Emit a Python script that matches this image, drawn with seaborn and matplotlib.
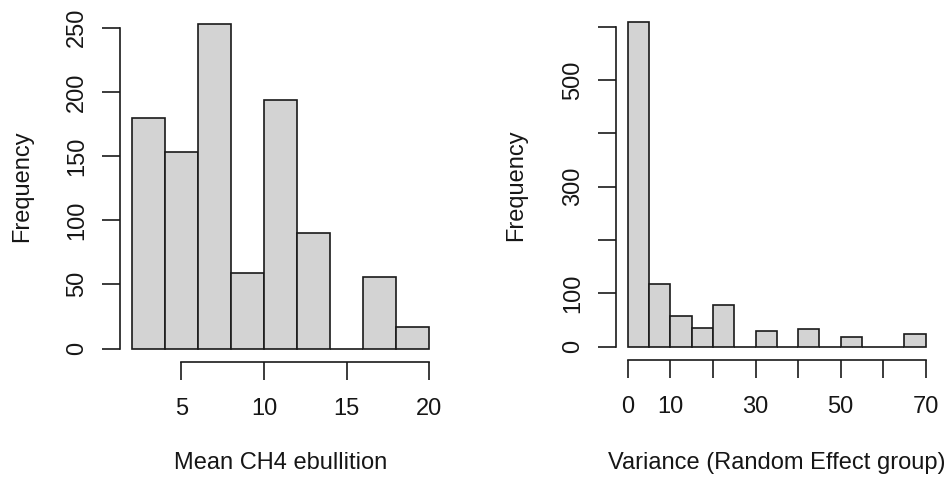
import numpy as np
import pandas as pd
import matplotlib
matplotlib.use("Agg")
import matplotlib.pyplot as plt
import seaborn as sns

# ---- data ----
left_edges = [2, 4, 6, 8, 10, 12, 14, 16, 18, 20]
left_counts = [180, 153, 253, 59, 194, 90, 0, 56, 17]
left_xticks = [5, 10, 15, 20]
left_yticks = [0, 50, 100, 150, 200, 250]
left_yticklabels = ["0", "50", "100", "150", "200", "250"]

right_edges = [0, 5, 10, 15, 20, 25, 30, 35, 40, 45, 50, 55, 60, 65, 70]
right_counts = [608, 117, 57, 34, 78, 0, 29, 0, 32, 0, 17, 0, 0, 24]
right_xticks = [0, 10, 20, 30, 40, 50, 60, 70]
right_xticklabels = ["0", "10", "", "30", "", "50", "", "70"]
right_yticks = [0, 100, 200, 300, 400, 500, 600]
right_yticklabels = ["0", "100", "", "300", "", "500", ""]

left_xlabel = "Mean CH4 ebullition"
right_xlabel = "Variance (Random Effect group)"
ylabel = "Frequency"

sns.set_style("white")
plt.rcParams["font.family"] = ["Liberation Sans", "DejaVu Sans"]

W, H = 952, 482
fig = plt.figure(figsize=(W / 100, H / 100), dpi=100)

def px_axes(l, r, t, b):
    return fig.add_axes([l / W, (H - b) / H, (r - l) / W, (b - t) / H])

ax1 = px_axes(120, 441, 11, 362)
ax2 = px_axes(616, 937.6, 9.7, 360)

edge_col = "#1a1a1a"
txt_col = "#161616"
fs = 17

def draw(ax, edges, counts, xticks, xticklabels, yticks, yticklabels, xlabel, xlim, ylim, ylab_x, xlab_y):
    centers = [(a + b) / 2 for a, b in zip(edges[:-1], edges[1:])]
    df = pd.DataFrame({"x": centers, "w": counts})
    sns.histplot(data=df, x="x", weights="w", bins=list(edges), ax=ax,
                 color="#D3D3D3", edgecolor=edge_col, linewidth=1.2, alpha=1)
    ax.set_xlim(*xlim)
    ax.set_ylim(*ylim)
    for s in ["top", "right"]:
        ax.spines[s].set_visible(False)
    for s in ["left", "bottom"]:
        ax.spines[s].set_color(edge_col)
        ax.spines[s].set_linewidth(1.2)
    ax.spines["bottom"].set_bounds(xticks[0], xticks[-1])
    ax.spines["left"].set_bounds(yticks[0], yticks[-1])
    ax.set_xticks(xticks)
    ax.set_xticklabels(xticklabels, fontsize=fs, color=txt_col)
    ax.set_yticks(yticks)
    ax.set_yticklabels(yticklabels, fontsize=fs, color=txt_col, rotation=90, va="center")
    ax.tick_params(axis="both", direction="out", length=13, width=1.2, color=edge_col,
                   left=True, bottom=True)
    ax.tick_params(axis="x", pad=13)
    ax.tick_params(axis="y", pad=10)
    ax.set_xlabel(xlabel, fontsize=fs, color=txt_col)
    ax.set_ylabel(ylabel, fontsize=fs, color=txt_col)
    ax.yaxis.set_label_coords(ylab_x, 0.5)
    ax.xaxis.set_label_coords(0.5, xlab_y)
    ax.xaxis.label.set_va("center")
    ax.yaxis.label.set_va("center")
    ax.grid(False)

draw(ax1, left_edges, left_counts, left_xticks, [str(v) for v in left_xticks],
     left_yticks, left_yticklabels, left_xlabel, (1.28, 20.72), (-10.5, 263), -0.305, -0.288)
draw(ax2, right_edges, right_counts, right_xticks, right_xticklabels,
     right_yticks, right_yticklabels, right_xlabel, (-2.8, 72.8), (-25.3, 632), -0.311, -0.295)

fig.savefig("out.png", dpi=100, facecolor="white")
